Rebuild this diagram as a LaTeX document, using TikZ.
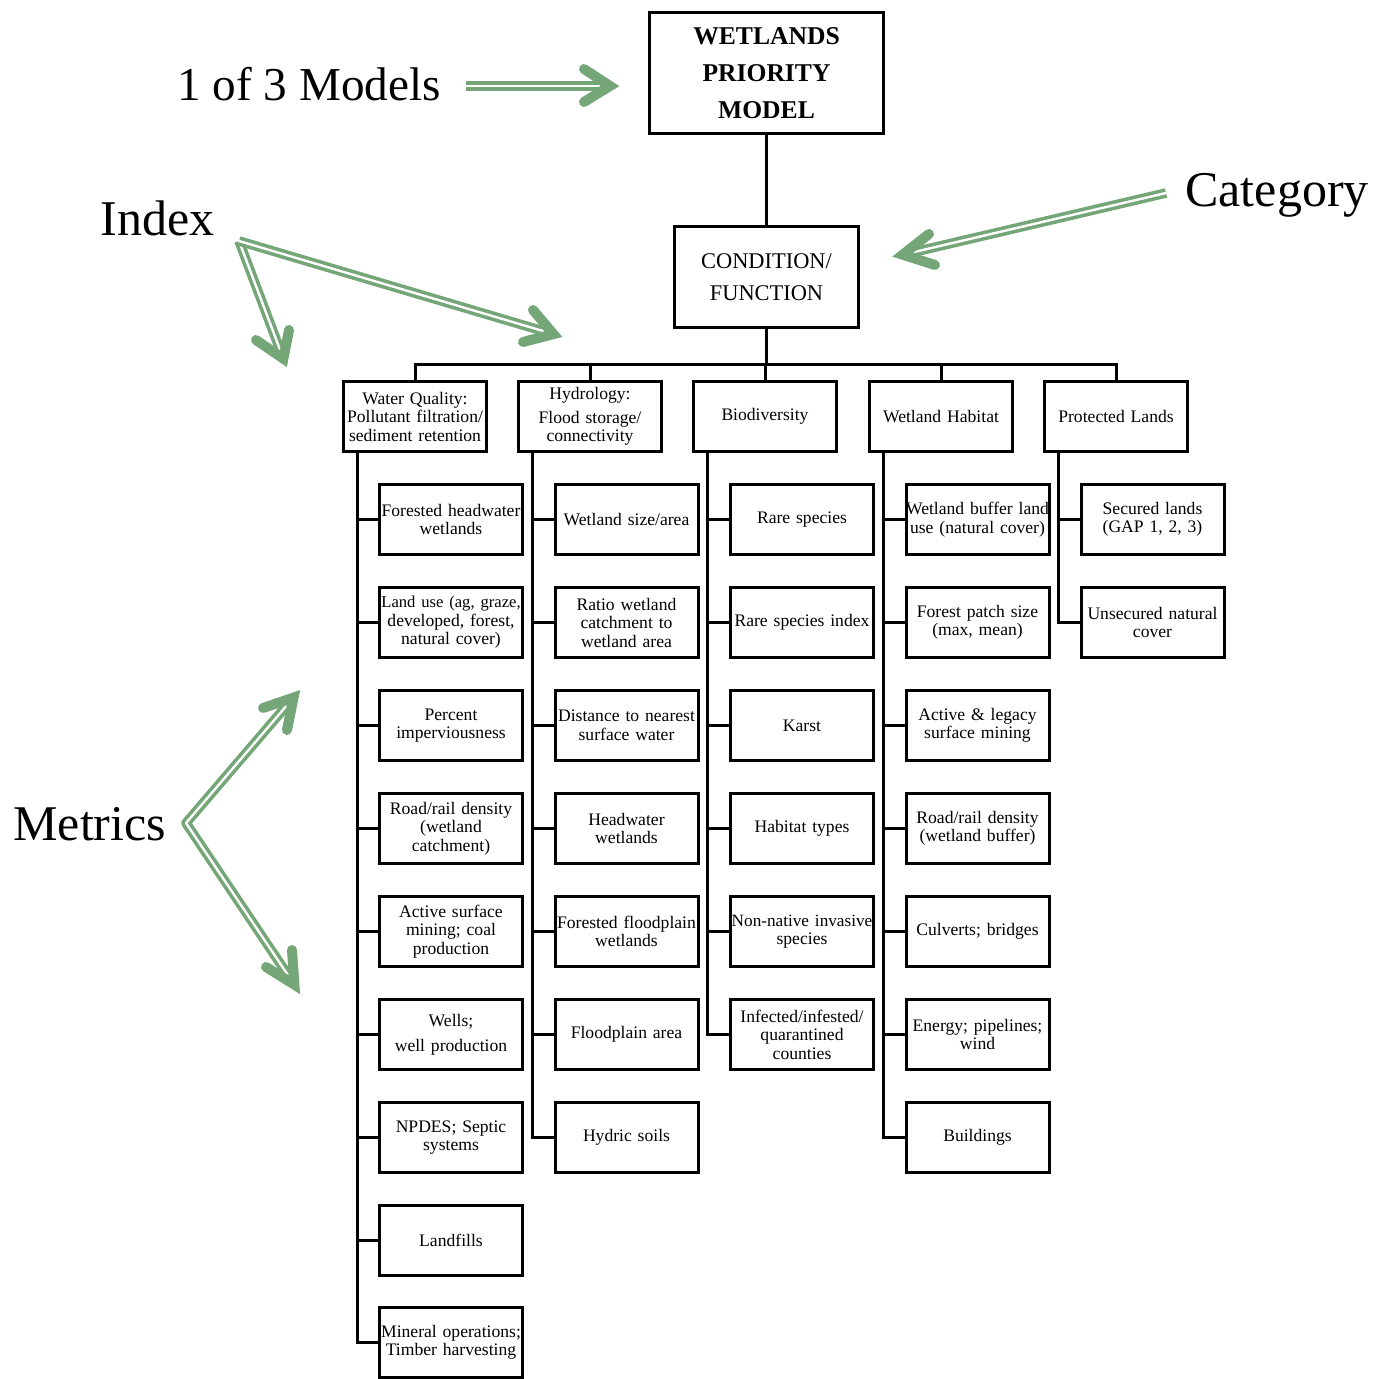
\documentclass[tikz,border=0pt]{standalone}
\usepackage{fontspec}
\setmainfont{Liberation Serif}
\definecolor{agreen}{RGB}{116,166,120}
\newcommand\wideline[1]{\makebox[71.5pt][c]{#1}}
\tikzset{
  conn/.style={line width=1.5pt},
  mbox/.style={draw, line width=1.5pt, text width=71.5pt, minimum height=35pt, inner sep=0pt, outer sep=0pt, align=center, font=\fontsize{8.8}{9.25}\selectfont},
  topbox/.style={draw, line width=1.5pt, minimum width=117pt, minimum height=60.5pt, inner sep=0pt, outer sep=0pt, align=center, font=\bfseries\fontsize{12.8}{18.5}\selectfont},
  condbox/.style={draw, line width=1.5pt, minimum width=92pt, minimum height=50.5pt, inner sep=0pt, outer sep=0pt, align=center, font=\fontsize{11.2}{16}\selectfont},
  biglabel/.style={inner sep=0pt, anchor=base west, font=\fontsize{25}{30}\selectfont},
  gshaft/.style={draw=agreen, double=white, line width=1.8pt, double distance=1.2pt, line join=round},
  ghead/.style={draw=agreen, line width=5pt, line cap=round, line join=miter},
}
\begin{document}
\begin{tikzpicture}[x=0.5pt, y=-0.5pt]
\useasboundingbox (0,0) rectangle (1373,1379);

% top levels
\node[topbox] (top) at (766.5,73) {WETLANDS\\PRIORITY\\MODEL};
\node[condbox] (cond) at (766.5,277) {CONDITION/\\FUNCTION};
\draw[conn] (top.south) -- (cond.north);

% categories
\node[mbox] (wq)  at (415,416.5)  {Water Quality:\\Pollutant filtration/\\sediment retention};
\node[mbox] (hyd) at (590,416.5)  {Hydrology:\\[2.5pt]Flood storage/\\connectivity};
\node[mbox] (bio) at (765,416.5)  {Biodiversity};
\node[mbox] (wh)  at (941,416.5)  {Wetland Habitat};
\node[mbox] (pl)  at (1116,416.5) {Protected Lands};

\coordinate (bus) at (766,365);
\draw[conn] (cond.south) -- (cond.south |- bus);
\draw[conn] (wq.north) -- (wq.north |- bus) -- (pl.north |- bus) -- (pl.north);
\draw[conn] (hyd.north) -- (hyd.north |- bus);
\draw[conn] (bio.north) -- (bio.north |- bus);
\draw[conn] (wh.north) -- (wh.north |- bus);

% rails
\coordinate (wqr)  at ([xshift=6.75pt]wq.south west);
\coordinate (hydr) at ([xshift=6.75pt]hyd.south west);
\coordinate (bior) at ([xshift=6.75pt]bio.south west);
\coordinate (whr)  at ([xshift=6.75pt]wh.south west);
\coordinate (plr)  at ([xshift=6.75pt]pl.south west);

% Water quality metrics
\node[mbox] (wq1) at (451,519.5)  {Forested headwater\\wetlands};
\node[mbox] (wq2) at (451,622.5)  {\wideline{\fontsize{8.3}{9.25}\selectfont Land use (ag, graze,}\\developed, forest,\\natural cover)};
\node[mbox] (wq3) at (451,725.5)  {Percent\\imperviousness};
\node[mbox] (wq4) at (451,828.5)  {Road/rail density\\(wetland\\catchment)};
\node[mbox] (wq5) at (451,931.5)  {Active surface\\mining; coal\\production};
\node[mbox] (wq6) at (451,1034.5) {Wells;\\[3.3pt]well production};
\node[mbox] (wq7) at (451,1137.5) {NPDES; Septic\\systems};
\node[mbox] (wq8) at (451,1240.5) {Landfills};
\node[mbox] (wq9) at (451,1342.5) {\wideline{Mineral operations;}\\Timber harvesting};
\foreach \i in {1,...,9} {\draw[conn] (wqr) |- (wq\i.west);}

% Hydrology metrics
\node[mbox] (hy1) at (626.5,519.5)  {Wetland size/area};
\node[mbox] (hy2) at (626.5,622.5)  {Ratio wetland\\catchment to\\wetland area};
\node[mbox] (hy3) at (626.5,725.5)  {\wideline{Distance to nearest}\\surface water};
\node[mbox] (hy4) at (626.5,828.5)  {Headwater\\wetlands};
\node[mbox] (hy5) at (626.5,931.5)  {\wideline{Forested floodplain}\\wetlands};
\node[mbox] (hy6) at (626.5,1034.5) {Floodplain area};
\node[mbox] (hy7) at (626.5,1137.5) {Hydric soils};
\foreach \i in {1,...,7} {\draw[conn] (hydr) |- (hy\i.west);}

% Biodiversity metrics
\node[mbox] (bi1) at (802,519.5)  {Rare species};
\node[mbox] (bi2) at (802,622.5)  {\wideline{Rare species index}};
\node[mbox] (bi3) at (802,725.5)  {Karst};
\node[mbox] (bi4) at (802,828.5)  {Habitat types};
\node[mbox] (bi5) at (802,931.5)  {\wideline{\fontsize{8.6}{9.25}\selectfont Non-native invasive}\\species};
\node[mbox] (bi6) at (802,1034.5) {Infected/infested/\\quarantined\\counties};
\foreach \i in {1,...,6} {\draw[conn] (bior) |- (bi\i.west);}

% Wetland habitat metrics
\node[mbox] (wh1) at (977.5,519.5)  {\wideline{Wetland buffer land}\\use (natural cover)};
\node[mbox] (wh2) at (977.5,622.5)  {Forest patch size\\(max, mean)};
\node[mbox] (wh3) at (977.5,725.5)  {Active \& legacy\\surface mining};
\node[mbox] (wh4) at (977.5,828.5)  {Road/rail density\\(wetland buffer)};
\node[mbox] (wh5) at (977.5,931.5)  {Culverts; bridges};
\node[mbox] (wh6) at (977.5,1034.5) {Energy; pipelines;\\wind};
\node[mbox] (wh7) at (977.5,1137.5) {Buildings};
\foreach \i in {1,...,7} {\draw[conn] (whr) |- (wh\i.west);}

% Protected lands metrics
\node[mbox] (pl1) at (1152.5,519.5) {Secured lands\\(GAP 1, 2, 3)};
\node[mbox] (pl2) at (1152.5,622.5) {\wideline{Unsecured natural}\\cover};
\foreach \i in {1,2} {\draw[conn] (plr) |- (pl\i.west);}

% annotation labels
\node[biglabel, font=\fontsize{23.6}{28}\selectfont] (lmodels) at (177,101) {1 of 3 Models};
\node[biglabel] (lindex) at (100,236) {Index};
\node[biglabel] (lcat) at (1185,207) {Category};
\node[biglabel] (lmet) at (13,840) {Metrics};

% annotation arrows
\coordinate (mS) at (466,86);   \coordinate (mT) at (610,86);
\coordinate (mA) at (584,69);   \coordinate (mB) at (584,102);
\draw[gshaft] (mS) -- (mT);
\draw[ghead] (mA) -- (mT) -- (mB);

\coordinate (iV) at (239,241);
\coordinate (iT1) at (283.4,358.7); \coordinate (iA1) at (289,330); \coordinate (iB1) at (256,340);
\coordinate (iT2) at (553.4,334.1); \coordinate (iA2) at (533,310); \coordinate (iB2) at (523,342);
\draw[gshaft] (iV) -- (iT1);
\draw[gshaft] (iV) -- (iT2);
\draw[ghead] (iA1) -- (iT1) -- (iB1);
\draw[ghead] (iA2) -- (iT2) -- (iB2);

\coordinate (cS) at (1166,193);
\coordinate (cT) at (902.7,254.7); \coordinate (cA) at (929,234); \coordinate (cB) at (935,265);
\draw[gshaft] (cS) -- (cT);
\draw[ghead] (cA) -- (cT) -- (cB);

\coordinate (eV) at (186,823);
\coordinate (eT1) at (293.5,697.6); \coordinate (eA1) at (263,708); \coordinate (eB1) at (287,730);
\coordinate (eT2) at (294.4,984.7); \coordinate (eA2) at (292,950); \coordinate (eB2) at (266,967);
\draw[gshaft] (eT1) -- (eV) -- (eT2);
\draw[ghead] (eA1) -- (eT1) -- (eB1);
\draw[ghead] (eA2) -- (eT2) -- (eB2);
\end{tikzpicture}
\end{document}
